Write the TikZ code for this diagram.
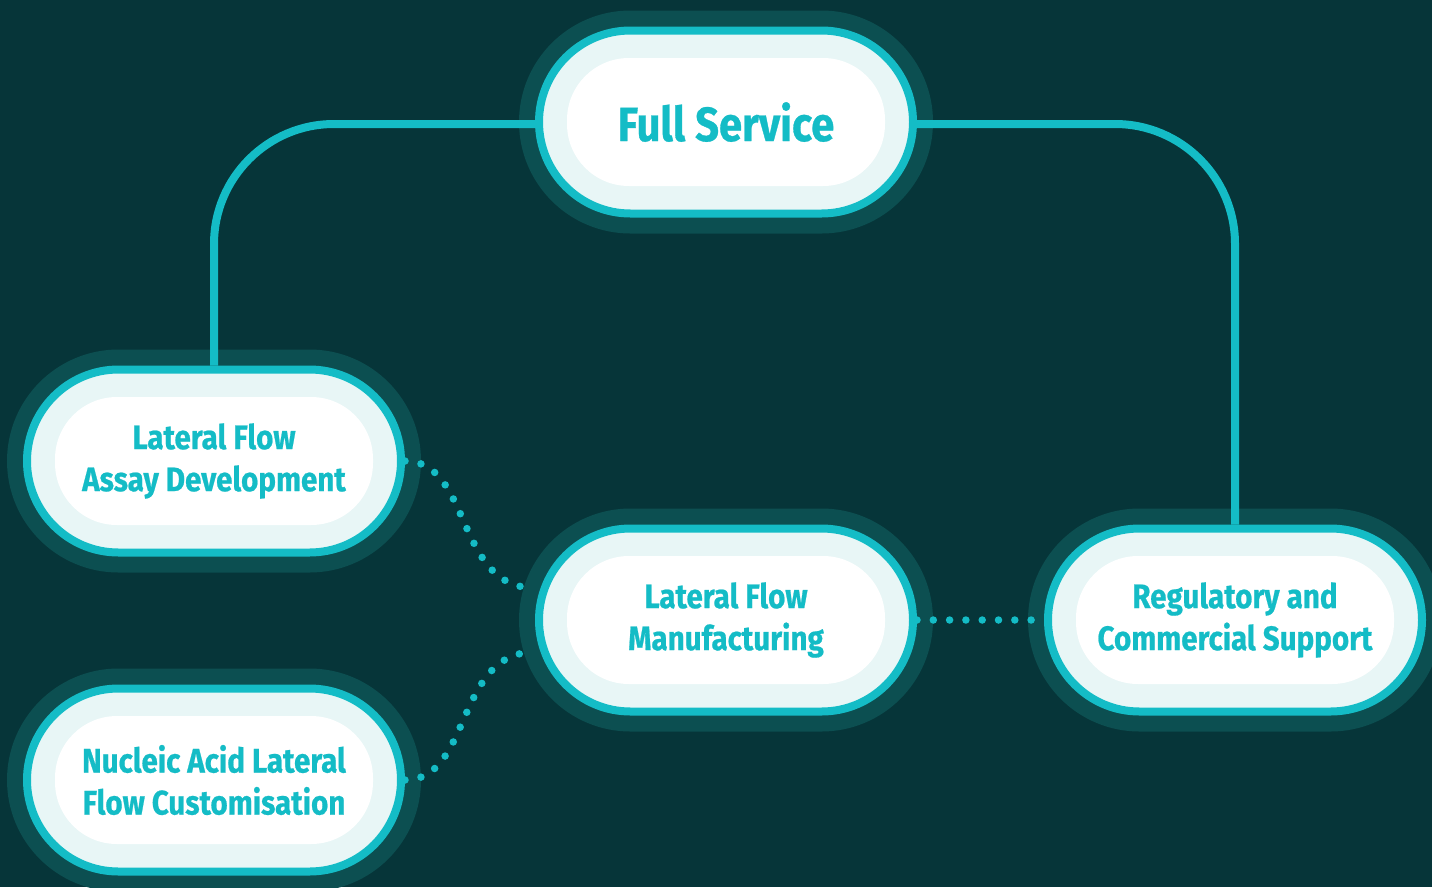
\documentclass[tikz,border=0pt]{standalone}
\usepackage{fontspec}
\newfontfamily\lblfont{Fira Sans}[FakeStretch=0.87,FakeBold=0.6]
\definecolor{bgc}{HTML}{063539}
\definecolor{haloc}{HTML}{0C4F51}
\definecolor{tealc}{HTML}{14BCC6}
\definecolor{lightc}{HTML}{E8F6F6}
\tikzset{
  pill/.style={shape=rectangle, minimum width=374pt, minimum height=183pt,
    rounded corners=91.5pt, draw=tealc, line width=8pt, fill=lightc,
    preaction={draw=haloc, line width=40pt},
    path picture={\fill[white, rounded corners=62pt]
      ([xshift=-159pt,yshift=-64pt]path picture bounding box.center) rectangle
      ([xshift=159pt,yshift=64pt]path picture bounding box.center);},
    text=tealc, align=center, font=\lblfont\bfseries\fontsize{34}{42}\selectfont,
    inner sep=0pt},
  conn/.style={draw=tealc, line width=8pt, rounded corners=120pt},
  dots/.style={draw=tealc, line width=7.5pt, line cap=round, dash pattern=on 0pt off 16.3pt}
}
\begin{document}
\begin{tikzpicture}[x=1pt,y=-1pt]
\useasboundingbox (0,0) rectangle (1432,887);
\fill[bgc] (0,0) rectangle (1432,887);
\node[pill, font=\lblfont\bfseries\fontsize{48}{56}\selectfont] (fs) at (726,122) {Full Service};
\node[pill] (lfad) at (214,461) {Lateral Flow\\Assay Development};
\node[pill] (lfm) at (726,620) {Lateral Flow\\Manufacturing};
\node[pill] (reg) at (1235,620) {Regulatory and\\Commercial Support};
\node[pill] (nalf) at (214,780) {Nucleic Acid Lateral\\Flow Customisation};
\draw[conn] ([yshift=-2pt]fs.west) -| (lfad.north);
\draw[conn] ([yshift=-2pt]fs.east) -| (reg.north);
\draw[dots] (lfad.east) .. controls (472,461) and (455,588) .. ([yshift=32pt]lfm.west);
\draw[dots] (nalf.east) .. controls (472,780) and (455,652) .. ([yshift=-32pt]lfm.west);
\draw[dots] (lfm.east) -- (reg.west);
\end{tikzpicture}
\end{document}
